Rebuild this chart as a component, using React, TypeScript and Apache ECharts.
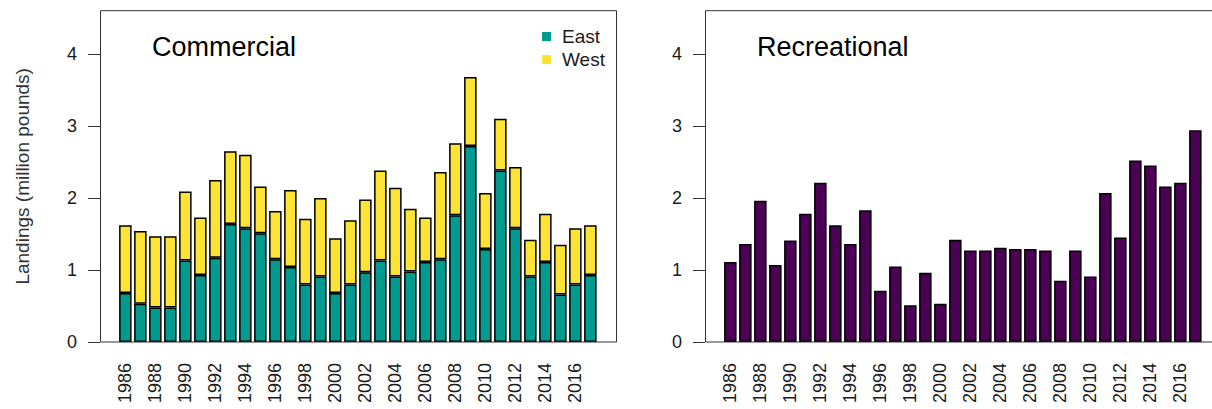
import React, { useEffect, useRef } from "react";
import * as echarts from "echarts";

const years = [
  "1986", "1987", "1988", "1989", "1990", "1991", "1992", "1993", "1994", "1995",
  "1996", "1997", "1998", "1999", "2000", "2001", "2002", "2003", "2004", "2005",
  "2006", "2007", "2008", "2009", "2010", "2011", "2012", "2013", "2014", "2015",
  "2016", "2017",
];

const commercialEast = [
  0.68, 0.53, 0.48, 0.48, 1.13, 0.93, 1.17, 1.64, 1.58, 1.51,
  1.15, 1.04, 0.8, 0.91, 0.68, 0.8, 0.97, 1.13, 0.91, 0.98,
  1.11, 1.15, 1.76, 2.72, 1.29, 2.38, 1.58, 0.91, 1.11, 0.66,
  0.8, 0.93,
];

const commercialWest = [
  0.94, 1.01, 0.99, 0.99, 0.96, 0.8, 1.08, 1.01, 1.02, 0.65,
  0.67, 1.07, 0.91, 1.09, 0.76, 0.89, 1.01, 1.25, 1.23, 0.87,
  0.62, 1.21, 1.0, 0.96, 0.78, 0.72, 0.85, 0.51, 0.67, 0.69,
  0.78, 0.69,
];

const recreational = [
  1.11, 1.36, 1.96, 1.07, 1.41, 1.78, 2.21, 1.62, 1.36, 1.83,
  0.71, 1.05, 0.51, 0.96, 0.53, 1.42, 1.27, 1.27, 1.31, 1.29,
  1.29, 1.27, 0.85, 1.27, 0.91, 2.07, 1.45, 2.52, 2.45, 2.16,
  2.21, 2.94,
];

const yTicks = [0, 1, 2, 3, 4];
const panelTitles = ["Commercial", "Recreational"];
const seriesNames = ["East", "West"];

const FONT = "'Liberation Sans', Arial, Helvetica, sans-serif";
const PANEL_LEFT = [100, 705];
const PANEL_W = 516;
const TOP = 10.7;
const BOTTOM = 342;
const INSET = 17.85;
const BANDS_W = 480;

export default function App() {
  const ref = useRef<HTMLDivElement>(null);

  useEffect(() => {
    if (!ref.current) return;
    const chart = echarts.init(ref.current, null, { renderer: "svg" });

    const grids = PANEL_LEFT.map((x) => ({
      left: x + INSET,
      top: TOP,
      width: BANDS_W,
      height: BOTTOM - TOP,
    }));

    const xAxes = grids.map((_, i) => ({
      type: "category",
      gridIndex: i,
      data: years,
      boundaryGap: true,
      axisLine: { show: false },
      axisTick: { show: false },
      axisLabel: {
        rotate: 90,
        interval: 1,
        margin: 21,
        fontSize: 18,
        color: "#1a1a1a",
        fontFamily: FONT,
      },
    }));

    const yAxes = grids.map((_, i) => ({
      type: "value",
      gridIndex: i,
      min: 0,
      max: 4.6,
      offset: INSET,
      axisLine: { show: false },
      splitLine: { show: false },
      axisTick: {
        show: true,
        length: 12,
        customValues: yTicks,
        lineStyle: { color: "#333", width: 1 },
      },
      axisLabel: {
        customValues: yTicks,
        margin: 23,
        fontSize: 18,
        color: "#1a1a1a",
        fontFamily: FONT,
      },
      name: i === 0 ? "Landings (million pounds)" : "",
      nameLocation: "middle",
      nameGap: 68,
      nameRotate: 90,
      nameTextStyle: { fontSize: 19, color: "#333", fontFamily: FONT },
    }));

    const border = { borderColor: "#000", borderWidth: 1.5 };

    chart.setOption({
      animation: false,
      backgroundColor: "#ffffff",
      title: panelTitles.map((t, i) => ({
        text: t,
        left: PANEL_LEFT[i] + 52,
        top: 33,
        padding: 0,
        textStyle: {
          fontSize: 27,
          fontWeight: "normal",
          color: "#000",
          fontFamily: FONT,
        },
      })),
      legend: {
        data: seriesNames,
        orient: "vertical",
        left: 537,
        top: 22,
        itemWidth: 9,
        itemHeight: 9,
        itemGap: 4,
        icon: "rect",
        itemStyle: { borderWidth: 0 },
        textStyle: {
          fontSize: 19,
          color: "#1a1a1a",
          fontFamily: FONT,
          padding: [0, 0, 0, 6],
        },
      },
      grid: grids,
      xAxis: xAxes,
      yAxis: yAxes,
      graphic: PANEL_LEFT.map((x) => ({
        type: "rect",
        silent: true,
        z: 100,
        shape: { x: x + 0.5, y: TOP, width: PANEL_W, height: BOTTOM - TOP },
        style: { fill: "none", stroke: "#333", lineWidth: 1 },
      })),
      series: [
        {
          type: "bar",
          name: seriesNames[0],
          stack: "commercial",
          xAxisIndex: 0,
          yAxisIndex: 0,
          barWidth: 12.5,
          data: commercialEast,
          itemStyle: { color: "#009A8E", ...border },
        },
        {
          type: "bar",
          name: seriesNames[1],
          stack: "commercial",
          xAxisIndex: 0,
          yAxisIndex: 0,
          barWidth: 12.5,
          data: commercialWest,
          itemStyle: { color: "#FDE333", ...border },
        },
        {
          type: "bar",
          name: "Recreational",
          xAxisIndex: 1,
          yAxisIndex: 1,
          barWidth: 12.5,
          data: recreational,
          itemStyle: { color: "#4B0055", ...border },
        },
      ],
    });

    return () => chart.dispose();
  }, []);

  return (
    <div
      ref={ref}
      style={{ position: "fixed", left: 0, top: 0, width: 1212, height: 409, background: "#fff" }}
    />
  );
}
